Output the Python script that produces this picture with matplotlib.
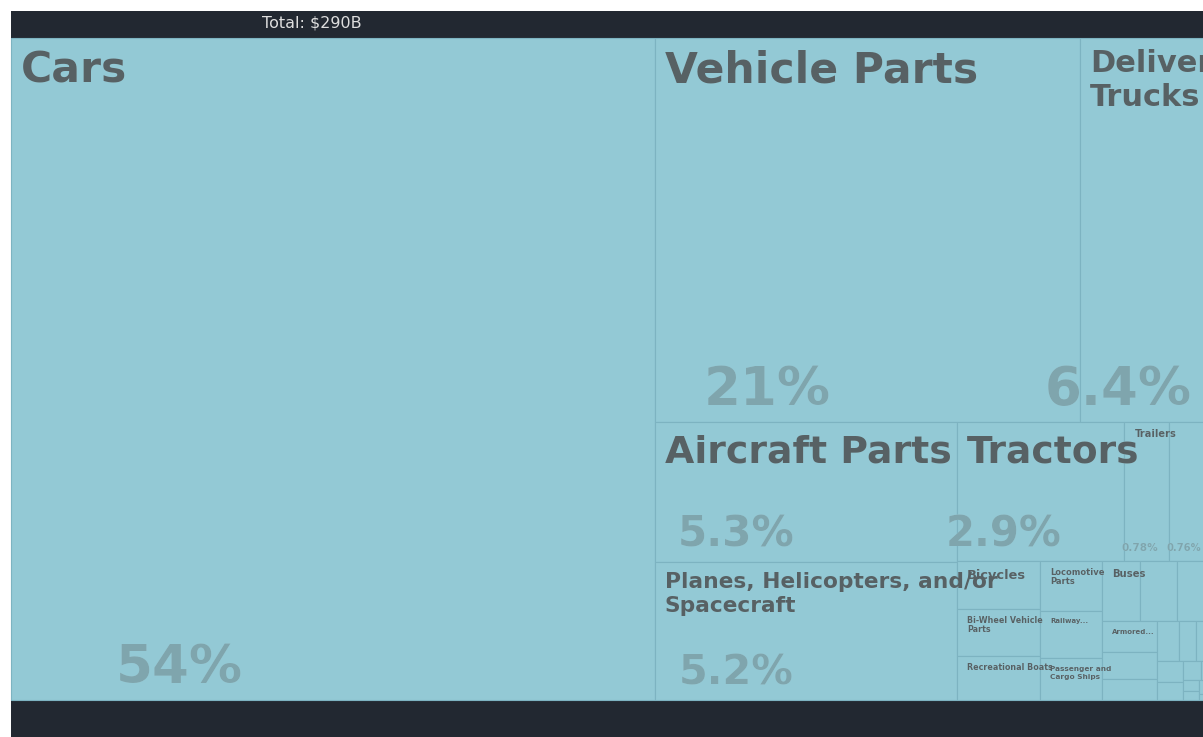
"""Treemap of transportation exports: share of each product in the total."""

import matplotlib
matplotlib.use('Agg')
import matplotlib.pyplot as plt
from matplotlib.patches import Rectangle
from matplotlib.font_manager import FontProperties
from matplotlib.textpath import text_to_path

# export value per product, $B (sorted largest first)
products = [
    'Cars', 'Vehicle Parts', 'Delivery Trucks', 'Aircraft Parts',
    'Planes, Helicopters, and/or Spacecraft', 'Tractors', 'Trailers',
    'Motorcycles and Cycles', 'Bicycles', 'Bi-Wheel Vehicle Parts',
    'Recreational Boats', 'Locomotive Parts', 'Railway Maintenance Vehicles',
    'Passenger and Cargo Ships', 'Buses', 'Special Purpose Motor Vehicles',
    'Cargo Containers', 'Armored Vehicles', 'Baby Carriages',
    'Railway Freight Cars', 'Special Purpose Ships', 'Railway Track Fixtures',
    'Fishing Ships', 'Gliders', 'Floating Docks', 'Aircraft Launch Gear',
    'Parachutes', 'Tug Boats', 'Scrap Vessels', 'Light Vessels',
    'Railway Passenger Cars', 'Balloons', 'Other Vessels',
]
export_value = [
    155.4, 59.5, 18.5, 15.49, 15.19, 8.52, 2.27, 2.21, 1.46, 1.43,
    1.32, 1.11, 1.06, 0.95, 0.835, 0.795, 0.785, 0.63, 0.54, 0.43,
    0.305, 0.245, 0.245, 0.205, 0.167, 0.128, 0.079, 0.063, 0.051, 0.039,
    0.029, 0.017, 0.012,
]

BG = '#222831'
FILL = '#93c9d5'
EDGE = '#7db3c1'
LABEL = '#576164'
SHARE = '#7fa5ad'
SPILL = '#a6d8e3'

PHI = (1 + 5 ** 0.5) / 2
PX = 0.72  # px -> pt at dpi 100

BOLD = FontProperties(family='DejaVu Sans', weight='bold', size=100)
_em = {}


def em_width(s):
    if s not in _em:
        w, _, _ = text_to_path.get_text_width_height_descent(s, BOLD, ismath=False)
        _em[s] = w / 100.0
    return _em[s]


def squarify(vals, x0, y0, x1, y1):
    """d3-style squarified treemap (golden ratio)."""
    rects = []
    total = float(sum(vals))
    i0, n = 0, len(vals)
    while i0 < n:
        dx, dy = x1 - x0, y1 - y0
        s = lo = hi = vals[i0]
        alpha = max(dy / dx, dx / dy) / (total * PHI)
        beta = s * s * alpha
        best = max(hi / beta, beta / lo)
        i1 = i0 + 1
        while i1 < n:
            v = vals[i1]
            s2, lo2, hi2 = s + v, min(lo, v), max(hi, v)
            beta = s2 * s2 * alpha
            r = max(hi2 / beta, beta / lo2)
            if r > best:
                break
            s, lo, hi, best = s2, lo2, hi2, r
            i1 += 1
        row = vals[i0:i1]
        if dx < dy:
            yb = y0 + dy * s / total
            xx = x0
            for v in row:
                rects.append((xx, y0, xx + dx * v / s, yb))
                xx += dx * v / s
            y0 = yb
        else:
            xb = x0 + dx * s / total
            yy = y0
            for v in row:
                rects.append((x0, yy, xb, yy + dy * v / s))
                yy += dy * v / s
            x0 = xb
        total -= s
        i0 = i1
    return rects


def wrap(text, limit_em):
    lines, cur = [], ''
    for word in text.split():
        if em_width(word) > limit_em:
            return None
        trial = word if not cur else cur + ' ' + word
        if em_width(trial) <= limit_em:
            cur = trial
        else:
            lines.append(cur)
            cur = word
    lines.append(cur)
    return lines


def fit_label(name, w, h):
    if w < 37.5 or h < 28:
        return None
    limit = 1.15 * (w - 8)
    budget = 0.33 * h + 2.5
    s = min(42.5, 0.27 * h)
    while s >= 7:
        lines = wrap(name, limit / s)
        if lines and len(lines) * 1.1 * s <= budget:
            return s, lines
        s -= 0.25
    words = name.split()
    for k in range(len(words) - 1, 0, -1):
        t = ' '.join(words[:k]) + '...'
        if em_width(t) * 7 <= limit and 7.7 <= budget:
            return 7, [t]
    return None


def draw_text(ax, x, y, txt, size, color, clip, ha='left'):
    # faint copy shows where the text spills past its tile
    ax.text(x, y, txt, fontsize=size * PX, color=SPILL, fontweight='bold',
            ha=ha, va='baseline', zorder=2, parse_math=False)
    t = ax.text(x, y, txt, fontsize=size * PX, color=color, fontweight='bold',
                ha=ha, va='baseline', zorder=3, parse_math=False)
    t.set_clip_path(clip)


fig = plt.figure(figsize=(12.03, 7.37), dpi=100)
ax = fig.add_axes([0, 0, 1, 1])
ax.set_xlim(0, 1203)
ax.set_ylim(737, 0)
ax.axis('off')

ax.add_patch(Rectangle((11, 11), 1300, 800, facecolor=BG, edgecolor='none', zorder=0))

total = sum(export_value)
ax.text(312, 27, 'Total: $%.0fB' % total, color='#dedede', fontsize=16 * PX,
        ha='center', va='baseline', family='DejaVu Sans', parse_math=False)

tiles = squarify(export_value, 11, 38, 1212.5, 700)

for name, val, (x0, y0, x1, y1) in zip(products, export_value, tiles):
    w, h = x1 - x0, y1 - y0
    patch = Rectangle((x0, y0), w, h, facecolor=FILL, edgecolor=EDGE,
                      linewidth=0.8, zorder=1)
    ax.add_patch(patch)

    fit = fit_label(name, w, h)
    if fit:
        size, lines = fit
        for i, line in enumerate(lines):
            draw_text(ax, x0 + 10, y0 + 6.5 + 0.9 * size + i * 1.1 * size,
                      line, size, LABEL, patch)

    if h >= 100:
        share = '%s%%' % format(val / total * 100, '.2g')
        ps = min(53, 0.30 * h, 1.32 * (w - 17) / em_width(share))
        if ps >= 6:
            draw_text(ax, x0 + 4 + 0.255 * w, y1 - (8 + 0.17 * ps),
                      share, ps, SHARE, patch, ha='center')

fig.savefig('out.png', dpi=100)
plt.close(fig)
